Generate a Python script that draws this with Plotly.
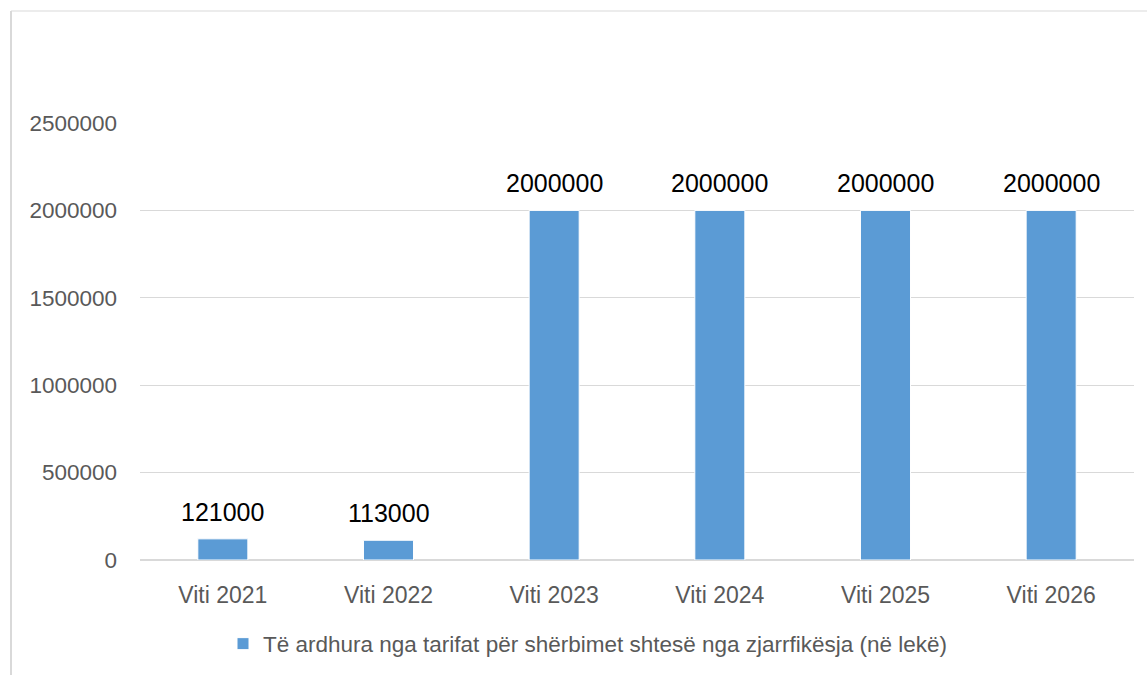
import plotly.graph_objects as go

categories = ["Viti 2021", "Viti 2022", "Viti 2023", "Viti 2024", "Viti 2025", "Viti 2026"]
values = [121000, 113000, 2000000, 2000000, 2000000, 2000000]
series_name = "Të ardhura nga tarifat për shërbimet shtesë nga zjarrfikësja (në lekë)"
y_ticks = [0, 500000, 1000000, 1500000, 2000000, 2500000]

W, H = 1147, 675
L, R, T, B = 140, 13, 123, 115
pw, ph = W - L - R, H - T - B

def px2x(px):
    return (px - L) / pw

def px2y(py):
    return (H - B - py) / ph

fig = go.Figure()
fig.add_trace(go.Bar(
    x=categories, y=values, name=series_name,
    marker=dict(color="#5B9BD5", line=dict(color="white", width=1)),
    showlegend=True,
))

for c, v in zip(categories, values):
    fig.add_annotation(x=c, y=v, text=str(v), showarrow=False,
                       yanchor="middle", yshift=27,
                       font=dict(family="Liberation Sans, Arial", size=25, color="#000000"))

font_ytick = dict(family="Liberation Sans, Arial", size=22.5, color="#595959")
font_xtick = dict(family="Liberation Sans, Arial", size=23, color="#595959")

fig.update_layout(
    width=W, height=H,
    margin=dict(l=L, r=R, t=T, b=B, autoexpand=False),
    paper_bgcolor="white", plot_bgcolor="white",
    bargap=0.698,
    showlegend=True,
    legend=dict(orientation="h", x=px2x(588), xanchor="center", y=px2y(644), yanchor="middle",
                font=dict(family="Liberation Sans, Arial", size=22.5, color="#595959"),
                itemwidth=30, bgcolor="rgba(0,0,0,0)"),
    xaxis=dict(showgrid=False, showline=False, ticks="", tickfont=font_xtick,
               ticklabelstandoff=19, zeroline=False),
    yaxis=dict(range=[0, 2500000], tickvals=y_ticks, ticktext=[str(t) for t in y_ticks],
               showgrid=True, gridcolor="#D9D9D9", gridwidth=1,
               zeroline=True, zerolinecolor="#D9D9D9", zerolinewidth=1.5,
               showline=False, ticks="", tickfont=font_ytick, ticklabelstandoff=22),
    shapes=[
        dict(type="line", xref="paper", yref="paper", x0=px2x(11), x1=px2x(11),
             y0=px2y(H + 5), y1=px2y(11), line=dict(color="#D9D9D9", width=2)),
        dict(type="line", xref="paper", yref="paper", x0=px2x(11), x1=px2x(W + 5),
             y0=px2y(11), y1=px2y(11), line=dict(color="#D9D9D9", width=1.2)),
    ],
)

fig.write_html("out.html", config={"displayModeBar": False},
               post_script="document.body.style.margin='0';document.body.style.overflow='hidden';")
